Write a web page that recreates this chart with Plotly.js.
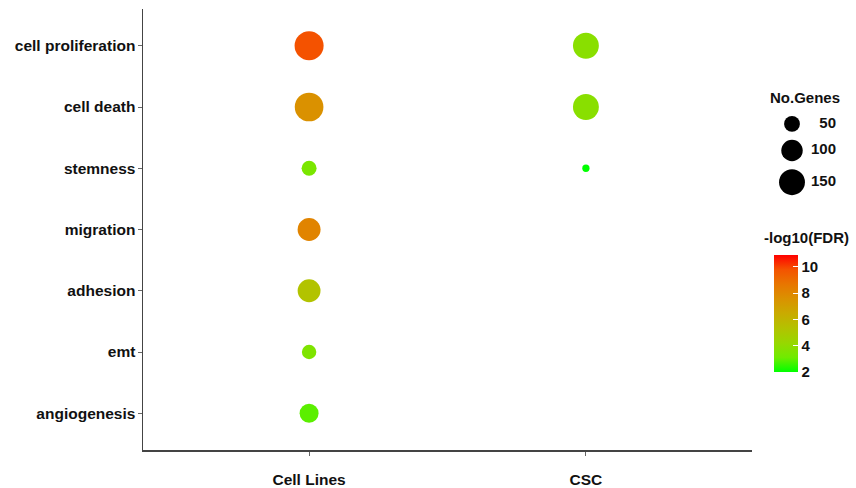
<!DOCTYPE html>
<html>
<head>
<meta charset="utf-8">
<script src="https://cdn.plot.ly/plotly-3.0.1.min.js"></script>
<style>html,body{margin:0;padding:0;background:#fff;}#chart{width:856px;height:488px;}</style>
</head>
<body>
<div id="chart"></div>
<script>
// ---- data ----
const categories = ['cell proliferation', 'cell death', 'stemness', 'migration', 'adhesion', 'emt', 'angiogenesis'];
const groups = ['Cell Lines', 'CSC'];
const cellLinesGenes = [191, 186, 44, 116, 115, 40, 76];
const cellLinesLogFDR = [9.8, 7.6, 3.4, 8.1, 5.3, 3.5, 2.9];
const cscCategories = ['cell proliferation', 'cell death', 'stemness'];
const cscGenes = [150, 150, 3];
const cscLogFDR = [3.8, 3.8, 2.0];
const sizeBreaks = [50, 100, 150];
const colorTicks = [2, 4, 6, 8, 10];

// ---- scales ----
const cMin = 2.0, cMax = 10.9;
const colorscale = [
  [0, '#00FF00'], [0.125, '#70EB00'], [0.25, '#98D700'], [0.375, '#B3C200'],
  [0.5, '#C9AB00'], [0.625, '#DA9200'], [0.75, '#E87600'], [0.875, '#F45300'], [1, '#FF0000']
];
function sizeScale(v) { return Math.sqrt(40 + 4.2 * v); } // area-linear, like ggplot scale_size

const W = 856, H = 488;
const M = {l: 143, r: 0, t: 9, b: 38};
const plotRight = 752;
const domX = (plotRight - M.l) / (W - M.l - M.r);
const font = {family: 'Liberation Sans, Arial, sans-serif', size: 15.5, color: '#111', weight: 'bold'};
const legFont = Object.assign({}, font, {size: 15});

const markerBase = {
  sizemode: 'diameter', colorscale: colorscale, cmin: cMin, cmax: cMax,
  opacity: 1, line: {width: 0}
};

// size legend key centres (stacked keys, each d + 8 px tall)
const keyY = (function () {
  const ys = []; let yy = 112;
  sizeBreaks.forEach(v => { const h = sizeScale(v) + 8; ys.push(yy + h / 2); yy += h; });
  return ys;
})();

const traces = [
  {
    type: 'scatter', mode: 'markers', x: categories.map(() => groups[0]), y: categories,
    marker: Object.assign({}, markerBase, {size: cellLinesGenes.map(sizeScale), color: cellLinesLogFDR,
      showscale: true,
      colorbar: {
        x: (774 - M.l) / (W - M.l), xanchor: 'left', xpad: 0, ypad: 0,
        y: (450 - 313.5) / (450 - 9), yanchor: 'middle',
        thickness: 24, thicknessmode: 'pixels', len: 117, lenmode: 'pixels',
        outlinewidth: 0, tickvals: colorTicks, ticktext: colorTicks.map(String),
        ticks: 'inside', ticklen: 5, tickcolor: '#ffffff', tickwidth: 1,
        tickfont: legFont, title: {text: ''}
      }}),
    hoverinfo: 'x+y', showlegend: false
  },
  {
    type: 'scatter', mode: 'markers', x: cscCategories.map(() => groups[1]), y: cscCategories,
    marker: Object.assign({}, markerBase, {size: cscGenes.map(sizeScale), color: cscLogFDR, showscale: false}),
    hoverinfo: 'x+y', showlegend: false
  },
  // size legend keys, drawn on a hidden pixel-unit axis pair
  {
    type: 'scatter', mode: 'markers', xaxis: 'x2', yaxis: 'y2',
    x: sizeBreaks.map(() => 792), y: keyY,
    marker: {size: sizeBreaks.map(sizeScale), color: '#000000', opacity: 1, line: {width: 0}},
    hoverinfo: 'skip', showlegend: false, cliponaxis: false
  },
  {
    type: 'scatter', mode: 'text', xaxis: 'x2', yaxis: 'y2',
    x: sizeBreaks.map(() => 836), y: keyY,
    text: sizeBreaks.map(String), textposition: 'middle left', textfont: legFont,
    hoverinfo: 'skip', showlegend: false, cliponaxis: false
  }
];

const layout = {
  width: W, height: H, margin: M, paper_bgcolor: '#fff', plot_bgcolor: '#fff',
  font: font, showlegend: false,
  xaxis: {
    domain: [0, domX], type: 'category', categoryarray: groups, range: [-0.6, 1.6],
    showgrid: false, zeroline: false, showline: true, linecolor: '#444', linewidth: 1.5,
    ticks: 'outside', ticklen: 4, tickcolor: '#666', tickwidth: 1,
    tickfont: font, ticklabelstandoff: 11, fixedrange: true
  },
  yaxis: {
    type: 'category', categoryarray: categories.slice().reverse(), range: [-0.6, 6.6],
    showgrid: false, zeroline: false, showline: true, linecolor: '#444', linewidth: 1.5,
    ticks: 'outside', ticklen: 4, tickcolor: '#666', tickwidth: 1,
    tickfont: font, ticklabelstandoff: -1, fixedrange: true
  },
  xaxis2: {domain: [domX, 1], range: [plotRight, W], visible: false, anchor: 'y2', fixedrange: true},
  yaxis2: {domain: [0, 1], range: [H - M.b, M.t], visible: false, anchor: 'x2', fixedrange: true},
  annotations: [
    {text: 'No.Genes', xref: 'paper', yref: 'paper', x: (805 - M.l) / (W - M.l), y: (450 - 98) / 441,
     xanchor: 'center', yanchor: 'middle', showarrow: false, font: legFont},
    {text: '-log10(FDR)', xref: 'paper', yref: 'paper', x: (806 - M.l) / (W - M.l), y: (450 - 237) / 441,
     xanchor: 'center', yanchor: 'middle', showarrow: false, font: legFont}
  ]
};

Plotly.newPlot('chart', traces, layout, {displayModeBar: false, staticPlot: true});
</script>
</body>
</html>
